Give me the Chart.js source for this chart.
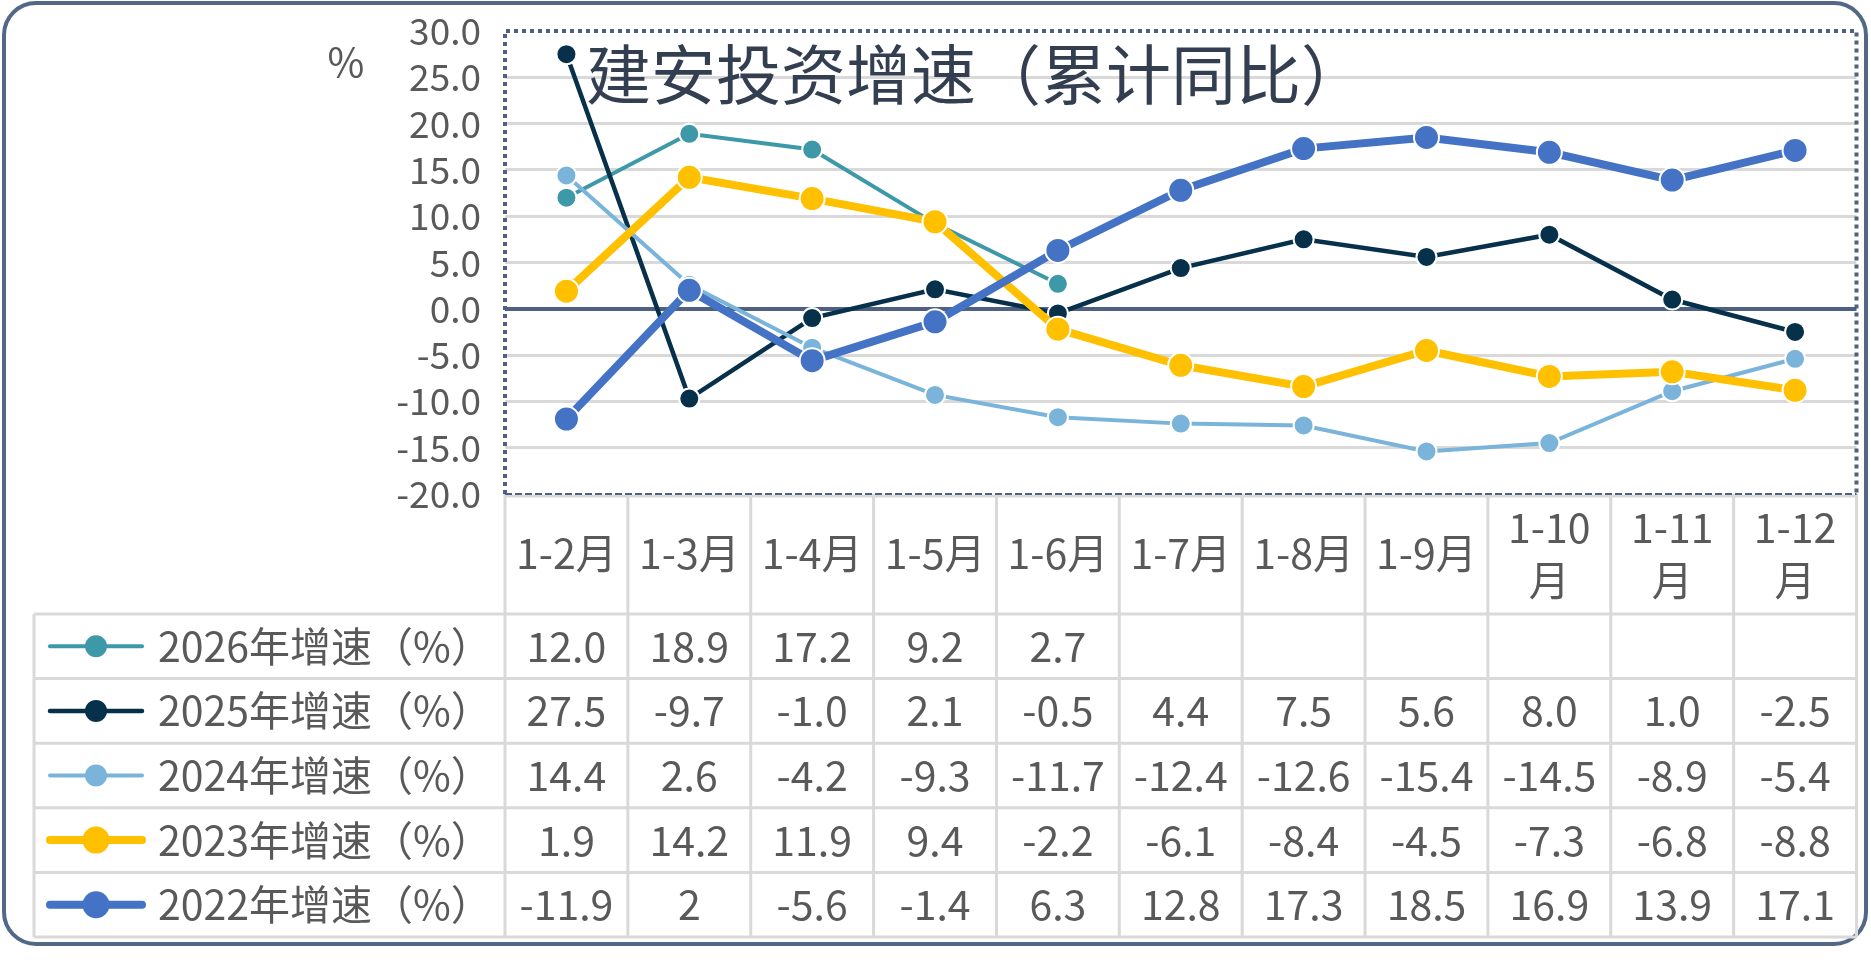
<!DOCTYPE html>
<html>
<head>
<meta charset="utf-8">
<title>建安投资增速（累计同比）</title>
<script src="https://cdn.jsdelivr.net/npm/chart.js@4.4.1/dist/chart.umd.min.js"></script>
<style>
  html, body { margin: 0; padding: 0; background: #fff; }
  #wrap { width: 1871px; height: 978px; }
</style>
</head>
<body>
<div id="wrap"><canvas id="myChart" width="1871" height="978"></canvas></div>
<script>
// categories (cumulative months)
var months = ["1-2月", "1-3月", "1-4月", "1-5月", "1-6月", "1-7月", "1-8月", "1-9月", "1-10月", "1-11月", "1-12月"];

// yearly growth, %
var g2026 = [12.0, 18.9, 17.2, 9.2, 2.7, null, null, null, null, null, null];
var g2025 = [27.5, -9.7, -1.0, 2.1, -0.5, 4.4, 7.5, 5.6, 8.0, 1.0, -2.5];
var g2024 = [14.4, 2.6, -4.2, -9.3, -11.7, -12.4, -12.6, -15.4, -14.5, -8.9, -5.4];
var g2023 = [1.9, 14.2, 11.9, 9.4, -2.2, -6.1, -8.4, -4.5, -7.3, -6.8, -8.8];
var g2022 = [-11.9, 2, -5.6, -1.4, 6.3, 12.8, 17.3, 18.5, 16.9, 13.9, 17.1];

var seriesNames = ["2026年增速（%）", "2025年增速（%）", "2024年增速（%）", "2023年增速（%）", "2022年增速（%）"];
var yTicks = [-20, -15, -10, -5, 0, 5, 10, 15, 20, 25, 30];

var FONT = '"Noto Sans CJK SC", "Noto Sans", sans-serif';
var TXT = "#595959";
var GRID = "#d9d9d9";
var SLATE = "#4e6181";

Chart.defaults.font.family = FONT;

function mk(label, data, color, lw, r, order) {
  return {
    label: label,
    data: data,
    borderColor: color,
    backgroundColor: color,
    borderWidth: lw,
    pointRadius: r,
    pointHoverRadius: r,
    pointBackgroundColor: color,
    pointBorderColor: "#ffffff",
    pointBorderWidth: 2,
    tension: 0,
    fill: false,
    spanGaps: false,
    order: order,
    decimals: label.indexOf("2022") === 0 ? null : 1
  };
}

var datasets = [
  mk(seriesNames[0], g2026, "#3d98a8", 4, 10, 4),
  mk(seriesNames[1], g2025, "#07304a", 4.5, 10, 3),
  mk(seriesNames[2], g2024, "#7ab4da", 4, 10, 2),
  mk(seriesNames[3], g2023, "#ffc000", 8, 12.5, 1),
  mk(seriesNames[4], g2022, "#4472c4", 8, 12.5, 0)
];

// frame, plot border, title, data table
var tablePlugin = {
  id: "tablePlugin",
  beforeDraw: function (chart) {
    var c = chart.ctx;
    c.save();
    c.fillStyle = "#fff";
    c.fillRect(0, 0, chart.width, chart.height);
    c.beginPath();
    c.roundRect(4, 3, 1862, 941, 32);
    c.strokeStyle = "#536887";
    c.lineWidth = 4;
    c.stroke();
    c.restore();
  },
  afterDraw: function (chart) {
    var c = chart.ctx;
    var a = chart.chartArea;
    var x = chart.scales.x;
    var n = months.length;
    var colW = (a.right - a.left) / n;
    var tTop = 614, tBot = 937, tLeft = 34;
    var rowH = (tBot - tTop) / datasets.length;

    c.save();
    // table grid
    c.strokeStyle = GRID;
    c.lineWidth = 3;
    c.beginPath();
    c.moveTo(a.left, a.bottom + 2);
    c.lineTo(a.right, a.bottom + 2);
    for (var r = 0; r <= datasets.length; r++) {
      var yy = tTop + r * rowH;
      c.moveTo(tLeft, yy);
      c.lineTo(a.right, yy);
    }
    c.moveTo(tLeft, tTop);
    c.lineTo(tLeft, tBot);
    for (var k = 0; k <= n; k++) {
      var xx = a.left + k * colW;
      c.moveTo(xx, a.bottom);
      c.lineTo(xx, tBot);
    }
    c.stroke();

    // plot area border: dotted top/left/right, dashed bottom
    c.strokeStyle = SLATE;
    c.lineWidth = 4;
    c.setLineDash([4, 4]);
    c.beginPath();
    c.moveTo(a.left, a.bottom);
    c.lineTo(a.left, a.top);
    c.lineTo(a.right, a.top);
    c.lineTo(a.right, a.bottom);
    c.stroke();
    c.lineWidth = 1.8;
    c.setLineDash([7, 3]);
    c.beginPath();
    c.moveTo(a.left, a.bottom);
    c.lineTo(a.right, a.bottom);
    c.stroke();
    c.setLineDash([]);

    // legend keys + values
    c.font = "41px " + FONT;
    c.textBaseline = "middle";
    datasets.forEach(function (ds, i) {
      var cy = tTop + (i + 0.5) * rowH;
      c.strokeStyle = ds.borderColor;
      c.lineWidth = ds.borderWidth;
      c.lineCap = "round";
      c.beginPath();
      c.moveTo(50, cy);
      c.lineTo(142, cy);
      c.stroke();
      c.beginPath();
      c.arc(96, cy, ds.pointRadius + 1, 0, Math.PI * 2);
      c.fillStyle = ds.borderColor;
      c.fill();

      c.fillStyle = TXT;
      c.textAlign = "left";
      c.fillText(ds.label, 158, cy);
      c.textAlign = "center";
      ds.data.forEach(function (v, j) {
        if (v === null) return;
        var s = ds.decimals === null ? String(v) : v.toFixed(ds.decimals);
        c.fillText(s, x.getPixelForValue(j), cy);
      });
    });

    // % unit and title
    c.fillStyle = TXT;
    c.font = "40px " + FONT;
    c.textAlign = "center";
    c.fillText("%", 346, 62);
    c.fillStyle = "#333f50";
    c.font = "65px " + FONT;
    c.textAlign = "left";
    c.fillText("建安投资增速（累计同比）", 586, 74);
    c.restore();
  }
};

var ctx = document.getElementById("myChart").getContext("2d");
var myChart = new Chart(ctx, {
  type: "line",
  data: {
    labels: months,
    datasets: datasets
  },
  plugins: [tablePlugin],
  options: {
    responsive: false,
    animation: false,
    devicePixelRatio: 1,
    layout: {
      padding: { left: 305, right: 7, top: 31, bottom: 364 }
    },
    plugins: {
      legend: { display: false },
      title: { display: false },
      tooltip: { enabled: false }
    },
    scales: {
      x: {
        offset: true,
        grid: { display: false },
        border: { display: false },
        ticks: {
          autoSkip: false,
          maxRotation: 0,
          minRotation: 0,
          padding: 25,
          crossAlign: "center",
          color: TXT,
          font: { size: 41, lineHeight: 1.3 },
          callback: function (v, i) {
            var s = months[i];
            return s.length > 4 ? [s.slice(0, -1), "月"] : s;
          }
        },
        afterFit: function (s) { s.height = 120; }
      },
      y: {
        min: yTicks[0],
        max: yTicks[yTicks.length - 1],
        border: { display: false },
        grid: {
          drawTicks: false,
          color: function (c) {
            var v = c.tick.value;
            if (v === yTicks[0] || v === yTicks[yTicks.length - 1]) return "rgba(0,0,0,0)";
            return v === 0 ? SLATE : GRID;
          },
          lineWidth: function (c) { return c.tick.value === 0 ? 4 : 3; }
        },
        ticks: {
          autoSkip: false,
          stepSize: 5,
          padding: 24,
          color: TXT,
          font: { size: 37, lineHeight: 0.3 },
          callback: function (v) { return v.toFixed(1); }
        },
        afterFit: function (s) { s.width = 200; }
      }
    }
  }
});
</script>
</body>
</html>
